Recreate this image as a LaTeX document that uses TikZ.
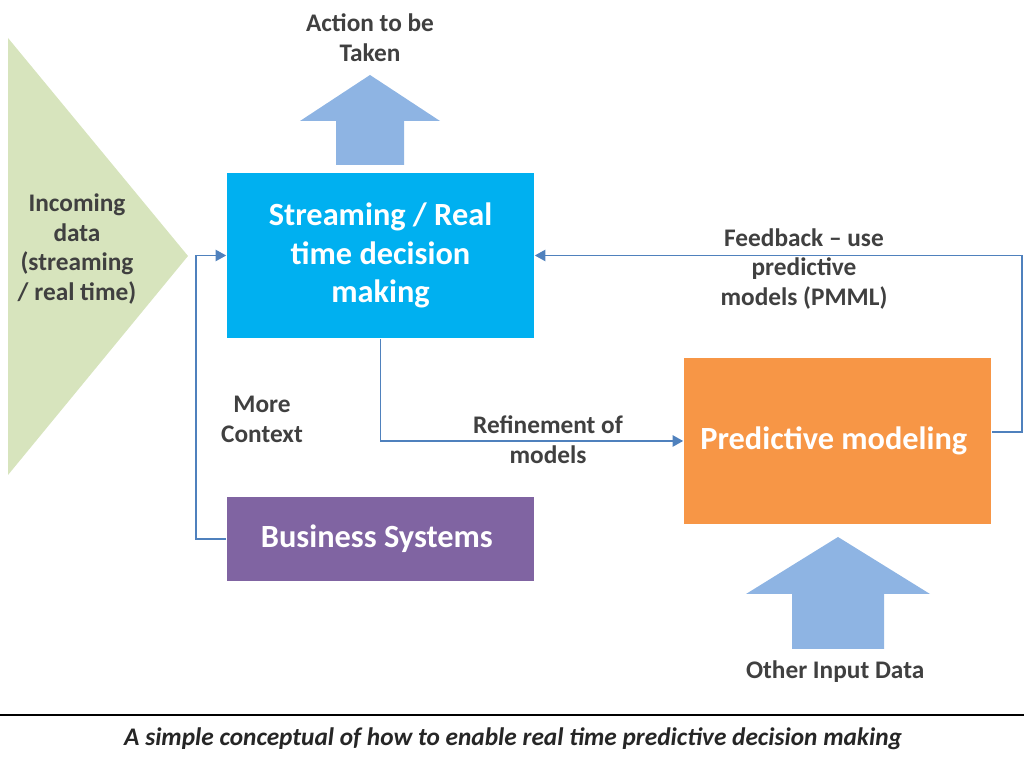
\documentclass[tikz,border=0pt]{standalone}
\usepackage{fontspec}
\setmainfont{Carlito}
\usetikzlibrary{arrows.meta}

\definecolor{streamblue}{HTML}{00B0F0}
\definecolor{modelorange}{HTML}{F79646}
\definecolor{bizpurple}{HTML}{8064A2}
\definecolor{inputgreen}{HTML}{D7E4BD}
\definecolor{bigarrow}{HTML}{8EB4E3}
\definecolor{linkblue}{HTML}{4F81BD}
\definecolor{labelgray}{HTML}{404040}

\tikzset{
    box/.style={minimum width=3.07cm, inner sep=0pt, align=center, text=white,
        font=\fontsize{9.2}{11}\selectfont\bfseries},
    lbl/.style={align=center, text=labelgray, inner sep=0pt,
        font=\fontsize{7.2}{8.5}\selectfont\bfseries},
    link/.style={draw=linkblue, line width=0.45pt, -{Triangle[length=3pt,width=3.2pt]}}
}

\begin{document}
\begin{tikzpicture}[x=0.01cm, y=-0.01cm]
            \useasboundingbox (0, 0) rectangle (1024, 768);

            \fill[inputgreen] (8, 38) -- (188, 256) -- (8, 475) -- cycle;
            \node[lbl] (incoming) at (77, 249) { Incoming\\data\\(streaming\\/ real time) };

            \node[box, fill=streamblue, minimum height=1.65cm] (stream) at (380.5, 255.5)
                { Streaming / Real\\time decision\\making };
            \node[box, fill=modelorange, minimum height=1.66cm] (predict) at (837.5, 441)
                { Predictive modeling };
            \node[box, fill=bizpurple, minimum height=0.84cm] (business) at (380.5, 539)
                { Business Systems };

            \fill[bigarrow] (336, 165) -- (336, 121) -- (300, 121) -- (370, 75)
                -- (440, 121) -- (404, 121) -- (404, 165) -- cycle;
            \node[lbl] (action) at (370, 38) { Action to be\\Taken };

            \fill[bigarrow] (792, 649) -- (792, 594) -- (746, 594) -- (838, 537)
                -- (930, 594) -- (884, 594) -- (884, 649) -- cycle;
            \node[lbl] (other) at (838, 672) { Other Input Data };

            \coordinate (fbk) at (1022, 432);
            \draw[link] (stream.south) |- (predict.west);
            \draw[link] (predict.east |- fbk) -- (fbk) |- (stream.east);
            \draw[link] (business.west) -- ++(-30, 0) |- (stream.west);

            \node[lbl] (refine) at (548, 440) { Refinement of\\models };
            \node[lbl] (feedback) at (804, 269) { Feedback -- use\\predictive\\models (PMML) };
            \node[lbl] (context) at (262, 419) { More\\Context };

            \draw[line width=0.6pt] (0, 715) -- (1024, 715);
            \node[lbl, text=black!85, font=\fontsize{7.2}{8.5}\selectfont\bfseries\itshape] (caption)
                at (516, 739) { A simple conceptual of how to enable real time predictive decision making };
\end{tikzpicture}
\end{document}
